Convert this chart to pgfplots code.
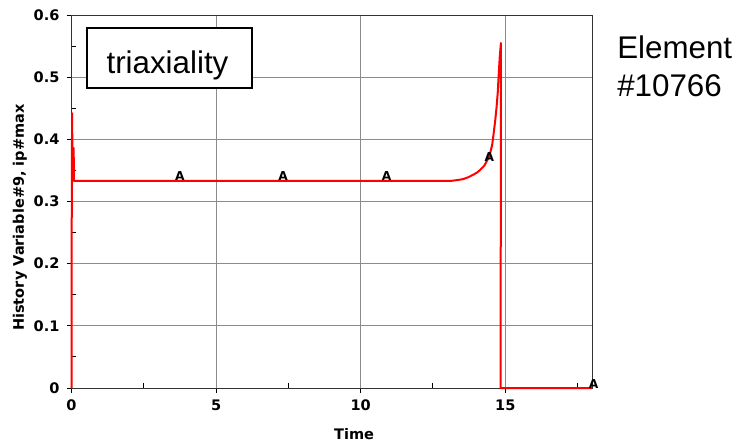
\documentclass[border=0pt]{standalone}
\usepackage{fontspec}
\usepackage{pgfplots}
\pgfplotsset{compat=1.18}
\newfontfamily\dv{DejaVu Sans}
\newfontfamily\lib{Liberation Sans}
\newcommand\tickfont{\dv\bfseries\fontsize{10.9pt}{12pt}\selectfont}
\newcommand\markfont{\dv\bfseries\fontsize{9.2pt}{10pt}\selectfont}
\newcommand\notefont{\lib\fontsize{23.5pt}{28.5pt}\selectfont}

% history variable #9 (triaxiality) of element 10766
\pgfplotstableread{
t      v
0      0
0.005  0.22
0.02   0.442
0.03   0.386
0.075  0.386
0.085  0.333
13.08  0.333
13.35  0.3345
13.54  0.336
13.72  0.339
13.89  0.343
14.04  0.347
14.18  0.353
14.28  0.358
14.35  0.364
14.43  0.371
14.49  0.380
14.55  0.392
14.60  0.410
14.65  0.429
14.70  0.452
14.74  0.475
14.77  0.501
14.81  0.533
14.85  0.555
14.84  0
18.0   0
}\triax

% curve label positions
\pgfplotstableread{
t      v
3.75   0.341
7.32   0.341
10.90  0.341
14.45  0.372
18.06  0.007
}\labels

\begin{document}
\begin{tikzpicture}
\path[use as bounding box] (0,0) rectangle (552.75pt,333pt);
\begin{axis}[
  at={(53.625pt,42pt)}, anchor=south west,
  scale only axis, width=390.375pt, height=279.75pt,
  xmin=0, xmax=18, ymin=0, ymax=0.6,
  xtick={0,5,10,15}, ytick={0,0.1,...,0.6},
  minor xtick={2.5,7.5,12.5,17.5},
  minor ytick={0.05,0.15,...,0.55},
  tick pos=left,
  tick align=outside,
  major tick length=3.5pt,
  minor tick length=-3.75pt,
  every tick/.style={black, line width=0.7pt},
  axis line style={black!80, line width=0.75pt},
  xmajorgrids, ymajorgrids,
  major grid style={black!45, line width=0.7pt},
  tick label style={font=\tickfont},
  /pgf/number format/assume math mode=true,
  /pgf/number format/fixed,
  yticklabel style={xshift=-2pt},
  xticklabel style={yshift=-2pt},
  xlabel={Time},
  ylabel={History Variable\#9, ip\#max},
  label style={font=\tickfont},
  xlabel style={at={(axis description cs:0.543,-0.1233)}, anchor=center},
  ylabel style={at={(axis description cs:-0.0989,0.457)}, anchor=center},
  clip=false,
]
\addplot[red, line width=1.5pt, line join=round] table[x=t, y=v] {\triax};
\addplot[black, only marks, mark=text, text mark={\markfont A}]
  table[x=t, y=v] {\labels};

\node[draw=black, line width=1.4pt, fill=white,
  minimum width=123.75pt, minimum height=45pt, inner sep=0pt]
  at (rel axis cs:0.1883,0.885) {};
\node[anchor=base, font=\notefont, inner sep=0pt]
  at (rel axis cs:0.1844,0.8437) {triaxiality};
\node[anchor=base west, font=\notefont, inner sep=0pt]
  at (rel axis cs:1.048,0.8847) {Element};
\node[anchor=base west, font=\notefont, inner sep=0pt]
  at (rel axis cs:1.048,0.781) {\#10766};
\end{axis}
\end{tikzpicture}
\end{document}
